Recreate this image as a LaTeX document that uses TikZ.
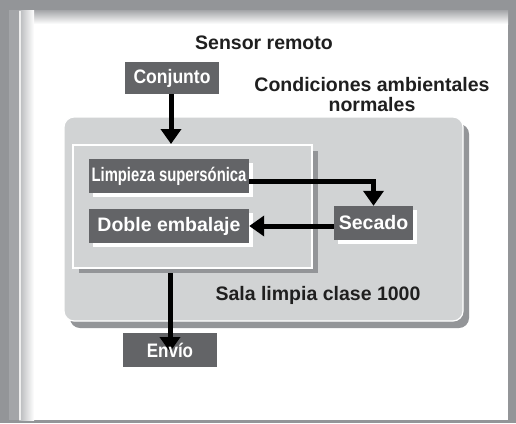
\documentclass[tikz,border=0pt]{standalone}
\usepackage{fontspec}
\setmainfont{Liberation Sans}
\usepackage{graphicx}
\usetikzlibrary{arrows.meta,shadows}
\definecolor{framegray}{HTML}{939598}
\definecolor{framelight}{HTML}{A3A5A8}
\definecolor{boxdark}{HTML}{636467}
\definecolor{roomgray}{HTML}{D1D3D4}
\definecolor{shadowgray}{HTML}{939598}
\newcommand\dgfont{\fontsize{19.5}{20}\selectfont\bfseries}
\tikzset{
  darkbox/.style={fill=boxdark, text=white, inner sep=0pt, minimum height=34pt, font=\dgfont},
  whiteshadow/.style={drop shadow={fill=white, opacity=1, shadow xshift=4pt, shadow yshift=-4pt}},
  arr/.style={draw=black, line width=5pt, -{Triangle[length=15pt,width=20pt]}},
  plaintext/.style={font=\dgfont, text=black!88, inner sep=0pt, align=center},
}
\begin{document}
\begin{tikzpicture}[x=1pt,y=-1pt]
\useasboundingbox (0,0) rectangle (516,423);
% frame
\fill[framegray] (0,0) rectangle (516,423);
\fill[framelight] (9,10) rectangle (19,420);
\fill[white] (19,10) rectangle (508,420);
\shade[top color=framelight, bottom color=white] (19,10) rectangle (508,24);
\shade[left color=framelight!80, right color=white] (19,10) rectangle (34,420);
\fill[white!85!framegray] (19,11) rectangle (20.5,420);

% titles
\node[plaintext] (sensor) at (264,43) {Sensor remoto};
\node[plaintext] (cond) at (372,95) {Condiciones ambientales\\normales};

% big room box with shadow
\fill[shadowgray, rounded corners=10pt] (70,124) rectangle (469,328);
\node[draw=white, line width=1.2pt, fill=roomgray, rounded corners=10pt,
      minimum width=399pt, minimum height=204pt, inner sep=0pt] (room) at (263.5,219) {};
\node[plaintext] (sala) at (318,295) {Sala limpia clase 1000};

% inner box with shadow
\fill[shadowgray] (79,151) rectangle (318,273);
\node[draw=white, line width=2pt, fill=roomgray,
      minimum width=239pt, minimum height=123pt, inner sep=0pt] (inner) at (192.5,206.5) {};

% process boxes
\node[darkbox, minimum width=94pt, minimum height=32pt] (conj) at (172,78) {\scalebox{0.9}[1]{Conjunto}};
\node[darkbox, whiteshadow, minimum width=160pt] (limp) at (169,176) {\scalebox{0.76}[1]{Limpieza supersónica}};
\node[darkbox, whiteshadow, minimum width=160pt] (doble) at (169,226) {Doble embalaje};
\node[darkbox, whiteshadow, minimum width=79pt] (sec) at (373.5,223) {Secado};
\node[darkbox, minimum width=94pt] (envio) at (170,350) {};

% connectors
\draw[arr] (conj.south -| 171,0) -- (171,144);
\draw[arr] ([yshift=-5pt]limp.east) -| (sec.north);
\draw[arr] (sec.west |- doble.east) -- (doble.east);
\draw[arr] ([yshift=-4pt]inner.south -| envio.center) -- ([yshift=-2pt]envio.center);
\node[font=\dgfont, text=white, inner sep=0pt] (enviotext) at (envio.center) {\scalebox{0.87}[1]{Envío}};
\end{tikzpicture}
\end{document}
